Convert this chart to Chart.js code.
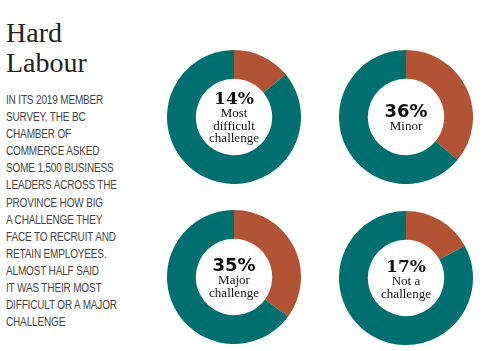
<!DOCTYPE html>
<html>
<head>
<meta charset="utf-8">
<script src="https://cdn.jsdelivr.net/npm/chart.js@4"></script>
<style>
  html, body { margin: 0; padding: 0; background: #fff; }
  #page { position: relative; width: 493px; height: 351px; overflow: hidden; }
  h1 {
    position: absolute; left: 6px; top: 18px; margin: 0;
    font: 300 28px/30px "Liberation Serif", serif; color: #222;
  }
  #blurb {
    position: absolute; left: 6px; top: 92px; width: 200px; margin: 0;
    font: 12.5px/17.1px "Liberation Sans", sans-serif;
    color: #444; letter-spacing: -0.2px;
    transform: scaleX(0.8); transform-origin: left top;
  }
  .donut { position: absolute; width: 134px; height: 134px; }
  .label {
    position: absolute; left: 50%; top: 50%; transform: translate(-50%, -50%);
    text-align: center; color: #111; white-space: nowrap;
    font: 13px/12.5px "Liberation Serif", serif;
  }
  .pct { font-size: 18px; line-height: 18px; font-weight: bold; }
  .serif { font-family: "DejaVu Serif", serif; font-size: 17px; }
  .sans { font-family: "DejaVu Sans", sans-serif; }
</style>
</head>
<body>
<div id="page">
  <h1>Hard<br>Labour</h1>
  <p id="blurb">IN ITS 2019 MEMBER<br>SURVEY, THE BC<br>CHAMBER OF<br>COMMERCE ASKED<br>SOME 1,500 BUSINESS<br>LEADERS ACROSS THE<br>PROVINCE HOW BIG<br>A CHALLENGE THEY<br>FACE TO RECRUIT AND<br>RETAIN EMPLOYEES.<br>ALMOST HALF SAID<br>IT WAS THEIR MOST<br>DIFFICULT OR A MAJOR<br>CHALLENGE</p>
</div>
<script>
const categories = ['Most difficult challenge', 'Minor', 'Major challenge', 'Not a challenge'];
const labelLines = [['Most', 'difficult', 'challenge'], ['Minor'], ['Major', 'challenge'], ['Not a', 'challenge']];
const shares = [14, 36, 35, 17];
const pctStyle = ['serif', 'sans', 'sans', 'serif'];

const sliceColor = '#B25434';
const restColor = '#006F70';
// top-left corner of each donut box
const spots = [[167, 50], [339, 50], [167, 210], [339, 211]];

const page = document.getElementById('page');

shares.forEach((v, i) => {
  const box = document.createElement('div');
  box.className = 'donut';
  box.style.left = spots[i][0] + 'px';
  box.style.top = spots[i][1] + 'px';
  const canvas = document.createElement('canvas');
  box.appendChild(canvas);

  const label = document.createElement('div');
  label.className = 'label';
  label.innerHTML = '<div class="pct ' + pctStyle[i] + '">' + v + '%</div>' +
    labelLines[i].map(t => '<div>' + t + '</div>').join('');
  box.appendChild(label);
  page.appendChild(box);

  new Chart(canvas, {
    type: 'doughnut',
    data: {
      labels: [categories[i], 'Other'],
      datasets: [{
        data: [v, 100 - v],
        backgroundColor: [sliceColor, restColor],
        borderWidth: 0,
      }]
    },
    options: {
      responsive: true,
      maintainAspectRatio: false,
      animation: false,
      cutout: '57%',
      layout: { padding: 0 },
      plugins: { legend: { display: false }, tooltip: { enabled: false } },
    }
  });
});
</script>
</body>
</html>
